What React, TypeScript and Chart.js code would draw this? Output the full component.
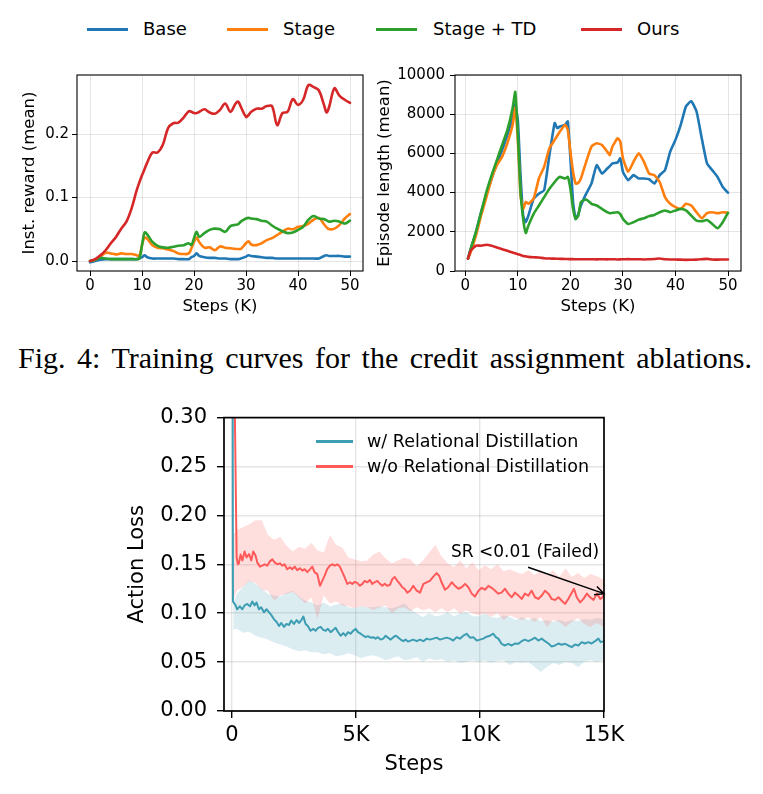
import { useEffect, useRef } from 'react';
import { Chart, registerables } from 'chart.js';

Chart.register(...registerables);

const FONT = "'DejaVu Sans', 'Liberation Sans', sans-serif";
Chart.defaults.font.family = FONT;
Chart.defaults.color = '#000';

// ---------- Credit assignment ablations: instantaneous reward ----------
const rewardSteps = [
  0, 1, 2, 3, 4, 5, 6, 7, 8, 9,
  9.5, 10, 10.5, 11, 12, 13, 14, 15, 16, 17,
  18, 19, 19.5, 20, 20.5, 21, 22, 23, 24, 25,
  26, 27, 28, 28.5, 29, 30, 30.5, 31, 32, 33,
  34, 35, 36, 37, 38, 39, 40, 41, 42, 43,
  44, 45, 45.5, 46, 47, 48, 49, 50,
];
const rewardBase = [
  -0.002, 0, 0.002, 0.003, 0.003, 0.003, 0.003, 0.003, 0.003, 0.003,
  0.004, 0.006, 0.009, 0.006, 0.004, 0.004, 0.004, 0.004, 0.004, 0.003,
  0.003, 0.003, 0.006, 0.008, 0.012, 0.008, 0.006, 0.005, 0.005, 0.004,
  0.004, 0.003, 0.003, 0.003, 0.004, 0.007, 0.009, 0.008, 0.007, 0.006,
  0.005, 0.005, 0.004, 0.004, 0.004, 0.004, 0.004, 0.004, 0.004, 0.004,
  0.004, 0.008, 0.009, 0.008, 0.008, 0.008, 0.007, 0.007,
];
const rewardStage = [
  0, 0.002, 0.007, 0.013, 0.012, 0.0105, 0.012, 0.011, 0.011, 0.009,
  0.008, 0.025, 0.037, 0.035, 0.025, 0.021, 0.02, 0.018, 0.016, 0.012,
  0.011, 0.012, 0.02, 0.03, 0.037, 0.03, 0.021, 0.0215, 0.017, 0.023,
  0.021, 0.02, 0.019, 0.019, 0.019, 0.028, 0.031, 0.026, 0.025, 0.028,
  0.033, 0.036, 0.041, 0.046, 0.051, 0.05, 0.054, 0.055, 0.059, 0.065,
  0.068, 0.058, 0.053, 0.05, 0.051, 0.057, 0.067, 0.074,
];
const rewardStageTD = [
  0, 0.002, 0.005, 0.004, 0.003, 0.003, 0.003, 0.003, 0.003, 0.003,
  0.004, 0.025, 0.045, 0.042, 0.03, 0.024, 0.0215, 0.021, 0.0225, 0.024,
  0.025, 0.028, 0.025, 0.036, 0.046, 0.038, 0.044, 0.049, 0.051, 0.05,
  0.046, 0.055, 0.057, 0.058, 0.062, 0.067, 0.068, 0.067, 0.066, 0.0635,
  0.062, 0.056, 0.051, 0.047, 0.044, 0.045, 0.049, 0.054, 0.065, 0.071,
  0.067, 0.066, 0.064, 0.062, 0.0635, 0.062, 0.059, 0.0635,
];
const rewardOurs = [
  0, 0.003, 0.009, 0.017, 0.028, 0.038, 0.051, 0.062, 0.083, 0.112,
  0.124, 0.135, 0.145, 0.155, 0.171, 0.171, 0.183, 0.209, 0.217, 0.218,
  0.226, 0.236, 0.235, 0.233, 0.233, 0.235, 0.239, 0.234, 0.232, 0.238,
  0.248, 0.235, 0.248, 0.251, 0.243, 0.227, 0.23, 0.235, 0.24, 0.24,
  0.244, 0.244, 0.214, 0.233, 0.235, 0.255, 0.246, 0.254, 0.277, 0.274,
  0.269, 0.246, 0.234, 0.243, 0.272, 0.26, 0.254, 0.249,
];
const rewardXTicks = [0, 10, 20, 30, 40, 50];
const rewardYTicks = [0, 0.1, 0.2];

// ---------- Credit assignment ablations: episode length ----------
const lengthSteps = [
  0.5, 1, 2, 3, 4, 5, 6, 7, 8, 9,
  9.5, 10, 10.5, 11, 11.5, 12, 13, 14, 15, 16,
  17, 17.5, 18, 19, 19.5, 20, 20.5, 21, 21.5, 22,
  23, 24, 25, 26, 27, 27.5, 28, 29, 29.5, 30,
  31, 32, 33, 34, 35, 36, 37, 38, 39, 40,
  41, 42, 43, 44, 45, 46, 47, 48, 49, 50,
];
const lengthBase = [
  635, 1115, 1970, 3000, 3900, 4720, 5490, 6170, 6950, 7800,
  8490, 7630, 4890, 2830, 2490, 2830, 3690, 3945, 4120, 5920,
  7550, 7290, 7370, 7460, 7630, 5750, 3520, 2660, 2900, 3340,
  3945, 4460, 5400, 4970, 5230, 5350, 5490, 5540, 5750, 5060,
  4630, 4890, 4720, 4720, 4680, 4460, 4890, 5145, 6090, 6690,
  7460, 8400, 8660, 8150, 6775, 5490, 5145, 4800, 4290, 3995,
];
const lengthStage = [
  635, 940, 1800, 2830, 3770, 4720, 5400, 5830, 6520, 7460,
  8320, 6600, 3860, 3170, 3520, 3430, 3690, 4720, 5320, 6260,
  6690, 6900, 7120, 7460, 7200, 6090, 5060, 4460, 4500, 4720,
  5570, 6350, 6520, 6430, 6090, 5920, 6350, 6775, 6600, 5750,
  5060, 5570, 6000, 5570, 4970, 4890, 4540, 3770, 3430, 3260,
  3170, 3430, 3340, 3000, 2690, 2950, 3000, 2950, 3000, 2970,
];
const lengthStageTD = [
  635, 1115, 1970, 3000, 4030, 4890, 5660, 6430, 7200, 8320,
  9140, 6950, 4030, 2660, 1940, 2315, 2915, 3340, 3770, 4200,
  4540, 4700, 4800, 4720, 4800, 4200, 3170, 2660, 2830, 3520,
  3650, 3430, 3340, 3170, 3000, 2950, 2970, 3000, 2900, 2660,
  2400, 2490, 2620, 2690, 2800, 2860, 3000, 3090, 3000, 3090,
  3170, 3090, 2830, 2570, 2540, 2600, 2400, 2180, 2490, 2970,
];
const lengthOurs = [
  635, 1030, 1290, 1290, 1340, 1290, 1200, 1115, 1030, 940,
  900, 860, 815, 770, 745, 720, 700, 690, 650, 635,
  630, 625, 620, 615, 610, 605, 605, 600, 600, 600,
  600, 600, 595, 600, 595, 600, 600, 590, 595, 600,
  605, 600, 600, 590, 600, 610, 640, 600, 590, 585,
  580, 570, 575, 580, 600, 620, 590, 580, 585, 590,
];
const lengthXTicks = [0, 10, 20, 30, 40, 50];
const lengthYTicks = [0, 2000, 4000, 6000, 8000, 10000];

// ---------- Relational distillation: action loss (step, mean) ----------
const withRdLoss: [number, number][] = [
  [0, 1.0], [40, 0.112], [150, 0.108], [210, 0.104], [320, 0.107], [420, 0.104], [510, 0.108],
  [620, 0.1095], [730, 0.107], [820, 0.112], [910, 0.108], [990, 0.111], [1090, 0.104],
  [1180, 0.106], [1290, 0.101], [1400, 0.104], [1490, 0.101], [1590, 0.098], [1690, 0.094],
  [1800, 0.091], [1900, 0.087], [1990, 0.09], [2100, 0.086], [2200, 0.089], [2300, 0.088],
  [2390, 0.0925], [2500, 0.089], [2610, 0.093], [2700, 0.09], [2800, 0.093], [2880, 0.0966],
  [2970, 0.089], [3060, 0.087], [3170, 0.082], [3280, 0.084], [3370, 0.082], [3470, 0.085],
  [3580, 0.086], [3680, 0.083], [3780, 0.082], [3870, 0.084], [3980, 0.0806], [4090, 0.083],
  [4180, 0.085], [4270, 0.081], [4380, 0.077], [4490, 0.0796], [4580, 0.077], [4680, 0.0806],
  [4780, 0.079], [4890, 0.082], [4990, 0.084], [5080, 0.0806], [5190, 0.079], [5300, 0.077],
  [5390, 0.0755], [5480, 0.0765], [5590, 0.075], [5700, 0.0755], [5790, 0.074], [5890, 0.0755],
  [5990, 0.073], [6100, 0.074], [6200, 0.077], [6290, 0.075], [6400, 0.073], [6510, 0.0755],
  [6600, 0.077], [6690, 0.0755], [6800, 0.073], [6910, 0.0714], [7000, 0.073], [7100, 0.071],
  [7200, 0.072], [7310, 0.073], [7450, 0.0714], [7580, 0.073], [7720, 0.0714], [7850, 0.074],
  [7980, 0.073], [8120, 0.074], [8250, 0.075], [8390, 0.073], [8520, 0.074], [8650, 0.075],
  [8790, 0.074], [8920, 0.072], [9060, 0.0755], [9190, 0.074], [9330, 0.077], [9460, 0.079],
  [9600, 0.075], [9730, 0.0755], [9870, 0.072], [10000, 0.073], [10130, 0.074], [10270, 0.076],
  [10400, 0.077], [10540, 0.079], [10640, 0.0755], [10740, 0.074], [10870, 0.0687], [11010, 0.067],
  [11140, 0.0687], [11280, 0.067], [11410, 0.069], [11550, 0.0687], [11680, 0.0714], [11810, 0.073],
  [11950, 0.0714], [12080, 0.073], [12220, 0.075], [12350, 0.072], [12490, 0.074], [12620, 0.0714],
  [12760, 0.069], [12890, 0.066], [13030, 0.067], [13160, 0.069], [13290, 0.0677], [13430, 0.0687],
  [13560, 0.067], [13700, 0.0653], [13830, 0.068], [13970, 0.067], [14100, 0.0704], [14230, 0.069],
  [14370, 0.0704], [14500, 0.069], [14640, 0.0714], [14770, 0.074], [14870, 0.0704], [15000, 0.0714],
];
const withoutRdLoss: [number, number][] = [
  [20, 0.5], [190, 0.157], [240, 0.15], [280, 0.151], [350, 0.16], [420, 0.154], [510, 0.163],
  [590, 0.157], [690, 0.1605], [780, 0.154], [860, 0.163], [950, 0.159], [1020, 0.152],
  [1130, 0.1476], [1220, 0.1486], [1320, 0.15], [1420, 0.1486], [1530, 0.153], [1630, 0.155],
  [1720, 0.152], [1830, 0.15], [1940, 0.151], [2030, 0.1486], [2120, 0.15], [2230, 0.145],
  [2340, 0.147], [2430, 0.145], [2530, 0.1476], [2630, 0.144], [2740, 0.146], [2840, 0.1435],
  [2930, 0.145], [3040, 0.142], [3150, 0.145], [3240, 0.1476], [3330, 0.142], [3440, 0.14],
  [3550, 0.128], [3640, 0.133], [3740, 0.1384], [3840, 0.145], [3950, 0.1486], [4050, 0.15],
  [4140, 0.1486], [4250, 0.15], [4350, 0.1476], [4450, 0.142], [4540, 0.137], [4650, 0.13],
  [4760, 0.1316], [4850, 0.13], [4950, 0.132], [5050, 0.131], [5160, 0.128], [5260, 0.13],
  [5350, 0.133], [5460, 0.1316], [5560, 0.134], [5660, 0.13], [5750, 0.1316], [5860, 0.133],
  [5970, 0.13], [6060, 0.128], [6160, 0.13], [6260, 0.128], [6370, 0.129], [6470, 0.135],
  [6560, 0.137], [6670, 0.133], [6770, 0.13], [6870, 0.1265], [6960, 0.125], [7070, 0.121],
  [7180, 0.123], [7310, 0.128], [7450, 0.123], [7580, 0.121], [7720, 0.13], [7850, 0.1316],
  [7980, 0.133], [8120, 0.1374], [8250, 0.141], [8360, 0.138], [8450, 0.1316], [8590, 0.124],
  [8720, 0.1265], [8860, 0.1316], [8990, 0.128], [9130, 0.125], [9260, 0.1265], [9400, 0.13],
  [9530, 0.1265], [9670, 0.12], [9800, 0.117], [9940, 0.123], [10070, 0.126], [10200, 0.124],
  [10340, 0.128], [10470, 0.126], [10610, 0.123], [10740, 0.12], [10870, 0.121], [11010, 0.125],
  [11140, 0.12], [11280, 0.1163], [11410, 0.121], [11550, 0.118], [11680, 0.1146], [11810, 0.12],
  [11950, 0.118], [12080, 0.123], [12220, 0.1163], [12350, 0.1146], [12490, 0.118], [12620, 0.123],
  [12760, 0.12], [12890, 0.1146], [13030, 0.1136], [13160, 0.1163], [13290, 0.113], [13430, 0.1095],
  [13560, 0.1146], [13700, 0.121], [13790, 0.125], [13900, 0.1163], [14040, 0.111], [14170, 0.1146],
  [14310, 0.12], [14440, 0.1163], [14580, 0.1136], [14710, 0.12], [14850, 0.1146], [14950, 0.1163],
  [15000, 0.12],
];

// spread bands: step, lower, upper
const withRdBand: [number, number, number][] = [
  [50, 0.083, 0.11], [200, 0.084, 0.12], [450, 0.08, 0.127], [700, 0.081, 0.134], [950, 0.077, 0.13],
  [1200, 0.075, 0.125], [1450, 0.073, 0.12], [1700, 0.07, 0.118], [1950, 0.068, 0.117], [2200, 0.066, 0.121],
  [2450, 0.063, 0.123], [2700, 0.061, 0.117], [2950, 0.062, 0.113], [3200, 0.06, 0.111], [3450, 0.06, 0.108],
  [3700, 0.058, 0.111], [3950, 0.059, 0.107], [4200, 0.056, 0.109], [4450, 0.057, 0.11], [4700, 0.059, 0.106],
  [4950, 0.057, 0.105], [5200, 0.054, 0.107], [5450, 0.056, 0.106], [5700, 0.057, 0.106], [5950, 0.055, 0.107],
  [6200, 0.052, 0.106], [6450, 0.054, 0.105], [6700, 0.056, 0.107], [6950, 0.052, 0.11], [7200, 0.053, 0.104],
  [7450, 0.055, 0.1], [7700, 0.05, 0.096], [7950, 0.054, 0.1], [8200, 0.052, 0.097], [8450, 0.053, 0.098],
  [8700, 0.05, 0.101], [8950, 0.052, 0.097], [9200, 0.049, 0.1], [9450, 0.05, 0.101], [9700, 0.052, 0.097],
  [9950, 0.05, 0.097], [10200, 0.052, 0.1], [10450, 0.049, 0.096], [10700, 0.051, 0.095], [10950, 0.052, 0.098],
  [11200, 0.047, 0.096], [11450, 0.05, 0.093], [11700, 0.049, 0.096], [11950, 0.05, 0.093], [12200, 0.045, 0.095],
  [12450, 0.04, 0.092], [12700, 0.045, 0.093], [12950, 0.049, 0.091], [13200, 0.047, 0.093], [13450, 0.05, 0.091],
  [13700, 0.049, 0.093], [13950, 0.045, 0.092], [14200, 0.05, 0.094], [14450, 0.052, 0.093], [14700, 0.05, 0.095],
  [15000, 0.052, 0.094],
];
const withoutRdBand: [number, number, number][] = [
  [50, 0.113, 0.18], [200, 0.123, 0.185], [450, 0.127, 0.188], [700, 0.133, 0.191], [950, 0.131, 0.195],
  [1200, 0.124, 0.195], [1450, 0.123, 0.18], [1700, 0.113, 0.175], [1950, 0.118, 0.178], [2200, 0.12, 0.169],
  [2450, 0.122, 0.163], [2700, 0.116, 0.168], [2950, 0.11, 0.166], [3200, 0.116, 0.172], [3450, 0.094, 0.164],
  [3700, 0.118, 0.162], [3950, 0.11, 0.18], [4200, 0.112, 0.17], [4450, 0.108, 0.167], [4700, 0.107, 0.157],
  [4950, 0.105, 0.155], [5200, 0.107, 0.153], [5450, 0.106, 0.154], [5700, 0.103, 0.16], [5950, 0.106, 0.163],
  [6200, 0.108, 0.156], [6450, 0.1, 0.151], [6700, 0.105, 0.154], [6950, 0.106, 0.157], [7200, 0.102, 0.155],
  [7450, 0.106, 0.148], [7700, 0.103, 0.154], [7950, 0.105, 0.162], [8200, 0.101, 0.17], [8450, 0.105, 0.158],
  [8700, 0.101, 0.151], [8950, 0.105, 0.147], [9200, 0.1, 0.154], [9450, 0.103, 0.146], [9700, 0.1, 0.152],
  [9950, 0.098, 0.144], [10200, 0.1, 0.149], [10450, 0.096, 0.145], [10700, 0.1, 0.15], [10950, 0.093, 0.143],
  [11200, 0.098, 0.145], [11450, 0.095, 0.142], [11700, 0.093, 0.14], [11950, 0.096, 0.144], [12200, 0.091, 0.139],
  [12450, 0.096, 0.144], [12700, 0.086, 0.139], [12950, 0.093, 0.144], [13200, 0.091, 0.137], [13450, 0.086, 0.146],
  [13700, 0.091, 0.137], [13950, 0.095, 0.141], [14200, 0.089, 0.136], [14450, 0.086, 0.14], [14700, 0.09, 0.138],
  [15000, 0.086, 0.134],
];
const lossXTicks = [0, 5000, 10000, 15000];
const lossYTicks = [0, 0.05, 0.1, 0.15, 0.2, 0.25, 0.3];

const topSeries = ['Base', 'Stage', 'Stage + TD', 'Ours'];
const topColors = ['#1f77b4', '#ff7f0e', '#2ca02c', '#d62728'];
const lossSeries = ['w/ Relational Distillation', 'w/o Relational Distillation'];
const lossColors = ['#3d9db3', '#ff5a5a'];
const lossBandColors = ['rgba(61,157,179,0.18)', 'rgba(255,90,90,0.2)'];
const noteText = 'SR <0.01 (Failed)';

const GRID = 'rgba(0,0,0,0.1)';

// full rectangular frame around the plot area
const framePlugin = {
  id: 'frame',
  afterDraw(chart: any, _args: any, opts: any) {
    const { ctx, chartArea: a } = chart;
    ctx.save();
    ctx.strokeStyle = '#000';
    ctx.lineWidth = opts.width ?? 1;
    ctx.strokeRect(a.left, a.top, a.right - a.left, a.bottom - a.top);
    ctx.restore();
  },
};

// annotation text with an arrow pointing at the last loss value
const notePlugin = {
  id: 'failNote',
  afterDatasetsDraw(chart: any) {
    const { ctx, scales } = chart;
    const x = scales.x;
    const y = scales.y;
    const last = withoutRdLoss[withoutRdLoss.length - 1];
    ctx.save();
    ctx.font = `17px ${FONT}`;
    ctx.fillStyle = '#000';
    ctx.textAlign = 'left';
    ctx.textBaseline = 'middle';
    ctx.fillText(noteText, x.getPixelForValue(8830), y.getPixelForValue(0.1622));
    const x0 = x.getPixelForValue(11940);
    const y0 = y.getPixelForValue(0.147);
    const x1 = x.getPixelForValue(last[0]);
    const y1 = y.getPixelForValue(last[1]);
    ctx.strokeStyle = '#000';
    ctx.lineWidth = 1.5;
    ctx.beginPath();
    ctx.moveTo(x0, y0);
    ctx.lineTo(x1, y1);
    const ang = Math.atan2(y1 - y0, x1 - x0);
    const head = 10;
    ctx.moveTo(x1 - head * Math.cos(ang - 0.45), y1 - head * Math.sin(ang - 0.45));
    ctx.lineTo(x1, y1);
    ctx.lineTo(x1 - head * Math.cos(ang + 0.45), y1 - head * Math.sin(ang + 0.45));
    ctx.stroke();
    ctx.restore();
  },
};

const pts = (xs: number[], ys: number[]) => xs.map((x, i) => ({ x, y: ys[i] }));

function lineSet(data: { x: number; y: number }[], color: string, width: number, tension: number, order: number) {
  return {
    data,
    borderColor: color,
    backgroundColor: color,
    borderWidth: width,
    pointRadius: 0,
    tension,
    fill: false,
    order,
    borderJoinStyle: 'round',
    borderCapStyle: 'round',
  };
}

function scale(o: {
  min: number; max: number; ticks: number[]; fmt: (v: number) => string; size: number;
  title: string; titleSize: number; titlePad: any; tickLen: number; tickPad: number;
  fit: (s: any) => void; gridWidth: number;
}) {
  return {
    type: 'linear',
    min: o.min,
    max: o.max,
    afterBuildTicks: (s: any) => { s.ticks = o.ticks.map((value) => ({ value })); },
    afterFit: o.fit,
    ticks: {
      font: { size: o.size, family: FONT },
      color: '#000',
      padding: o.tickPad,
      autoSkip: false,
      maxRotation: 0,
      callback: (v: any) => o.fmt(Number(v)),
    },
    grid: { color: GRID, lineWidth: o.gridWidth, tickColor: '#000', tickLength: o.tickLen, tickWidth: o.gridWidth },
    border: { display: false },
    title: { display: true, text: o.title, color: '#000', font: { size: o.titleSize, family: FONT }, padding: o.titlePad },
  };
}

const baseOptions = (padding: any, frameWidth: number) => ({
  responsive: false,
  animation: false,
  devicePixelRatio: 1,
  layout: { padding },
  plugins: { legend: { display: false }, tooltip: { enabled: false }, frame: { width: frameWidth } },
});

function rewardConfig(): any {
  const series = [rewardBase, rewardStage, rewardStageTD, rewardOurs];
  return {
    type: 'line',
    data: { datasets: series.map((s, i) => ({ label: topSeries[i], ...lineSet(pts(rewardSteps, s), topColors[i], 2.6, 0.35, 3 - i) })) },
    options: {
      ...baseOptions({ left: 0, top: 15, right: 17, bottom: 0 }, 1.1),
      scales: {
        x: scale({ min: -2.5, max: 52.5, ticks: rewardXTicks, fmt: (v) => String(v), size: 15, title: 'Steps (K)', titleSize: 16.5,
          titlePad: { top: 0, bottom: 8 }, tickLen: 5, tickPad: 1, fit: (s) => { s.height = 54; }, gridWidth: 1 }),
        y: scale({ min: -0.0157, max: 0.293, ticks: rewardYTicks, fmt: (v) => v.toFixed(1), size: 15, title: 'Inst. reward (mean)', titleSize: 16.5,
          titlePad: { top: 20, bottom: 0 }, tickLen: 5, tickPad: 3, fit: (s) => { s.width = 77; }, gridWidth: 1 }),
      },
    },
    plugins: [framePlugin],
  };
}

function lengthConfig(): any {
  const series = [lengthBase, lengthStage, lengthStageTD, lengthOurs];
  return {
    type: 'line',
    data: { datasets: series.map((s, i) => ({ label: topSeries[i], ...lineSet(pts(lengthSteps, s), topColors[i], 2.6, 0.15, 3 - i) })) },
    options: {
      ...baseOptions({ left: 0, top: 15, right: 22, bottom: 0 }, 1.1),
      scales: {
        x: scale({ min: -1.975, max: 52.475, ticks: lengthXTicks, fmt: (v) => String(v), size: 15, title: 'Steps (K)', titleSize: 16.5,
          titlePad: { top: 0, bottom: 8 }, tickLen: 5, tickPad: 1, fit: (s) => { s.height = 54; }, gridWidth: 1 }),
        y: scale({ min: 0, max: 10000, ticks: lengthYTicks, fmt: (v) => String(v), size: 15, title: 'Episode length (mean)', titleSize: 16.5,
          titlePad: { top: 5, bottom: 0 }, tickLen: 5, tickPad: 5, fit: (s) => { s.width = 85; }, gridWidth: 1 }),
      },
    },
    plugins: [framePlugin],
  };
}

function lossConfig(): any {
  const band = (b: [number, number, number][], k: 1 | 2) => b.map((r) => ({ x: r[0], y: r[k] }));
  const bandSet = (data: any[], color: string, fill: any, order: number) => ({
    data, borderWidth: 0, borderColor: 'rgba(0,0,0,0)', backgroundColor: color, pointRadius: 0, tension: 0, fill, order,
  });
  return {
    type: 'line',
    data: {
      datasets: [
        bandSet(band(withRdBand, 2), lossBandColors[0], '+1', 3),
        bandSet(band(withRdBand, 1), lossBandColors[0], false, 3),
        bandSet(band(withoutRdBand, 2), lossBandColors[1], '+1', 2),
        bandSet(band(withoutRdBand, 1), lossBandColors[1], false, 2),
        { label: lossSeries[0], ...lineSet(withRdLoss.map(([x, y]) => ({ x, y })), lossColors[0], 2, 0, 1) },
        { label: lossSeries[1], ...lineSet(withoutRdLoss.map(([x, y]) => ({ x, y })), lossColors[1], 2, 0, 0) },
      ],
    },
    options: {
      ...baseOptions({ left: 0, top: 22, right: 56, bottom: 0 }, 1.7),
      scales: {
        x: scale({ min: -320, max: 15000, ticks: lossXTicks, fmt: (v) => (v === 0 ? '0' : `${v / 1000}K`), size: 21, title: 'Steps', titleSize: 21,
          titlePad: { top: 0, bottom: 16.4 }, tickLen: 7, tickPad: 5.4, fit: (s) => { s.height = 83; }, gridWidth: 1.4 }),
        y: scale({ min: 0, max: 0.3, ticks: lossYTicks, fmt: (v) => v.toFixed(2), size: 21, title: 'Action Loss', titleSize: 21,
          titlePad: { top: 25.4, bottom: 0 }, tickLen: 7, tickPad: 10, fit: (s) => { s.width = 124; }, gridWidth: 1.4 }),
      },
    },
    plugins: [framePlugin, notePlugin],
  };
}

function ChartCanvas({ make, left, top, width, height }: { make: () => any; left: number; top: number; width: number; height: number }) {
  const ref = useRef<HTMLCanvasElement>(null);
  useEffect(() => {
    const chart = new Chart(ref.current as HTMLCanvasElement, make());
    return () => chart.destroy();
  }, []);
  return <canvas ref={ref} width={width} height={height} style={{ position: 'absolute', left, top, width, height }} />;
}

const abs = (left: number, top: number, extra: any = {}) => ({ position: 'absolute' as const, left, top, ...extra });

export default function App() {
  const topLineX = [87, 227, 376, 581];
  const topTextX = [143, 283, 433, 637];
  return (
    <div style={abs(0, 0, { width: 763, height: 794, background: '#fff', fontFamily: FONT, color: '#000', overflow: 'hidden' })}>
      {topSeries.map((name, i) => (
        <div key={name}>
          <div style={abs(topLineX[i], 27.5, { width: 41, height: 3, background: topColors[i] })} />
          <div style={abs(topTextX[i], 19, { fontSize: 18, lineHeight: '20px', whiteSpace: 'nowrap' })}>{name}</div>
        </div>
      ))}

      <ChartCanvas make={rewardConfig} left={0} top={60} width={380} height={265} />
      <ChartCanvas make={lengthConfig} left={370} top={60} width={393} height={265} />

      <div
        style={abs(18, 340, {
          width: 734, fontFamily: "'Liberation Serif', 'Times New Roman', serif", fontSize: 30, lineHeight: '36px',
          textAlign: 'justify', textAlignLast: 'justify', whiteSpace: 'nowrap',
        })}
      >
        Fig. 4: Training curves for the credit assignment ablations.
      </div>

      <ChartCanvas make={lossConfig} left={100} top={395} width={560} height={399} />

      {lossSeries.map((name, i) => (
        <div key={name}>
          <div style={abs(316, 440 + i * 25, { width: 37, height: 2.5, background: lossColors[i] })} />
          <div style={abs(367, 431 + i * 25, { fontSize: 17.5, lineHeight: '20px', whiteSpace: 'nowrap' })}>{name}</div>
        </div>
      ))}
    </div>
  );
}
